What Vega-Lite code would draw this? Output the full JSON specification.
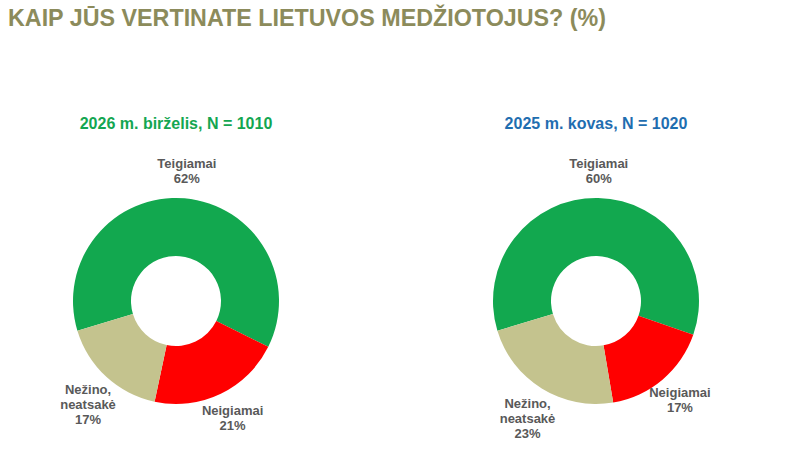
{
  "$schema": "https://vega.github.io/schema/vega-lite/v6.json",
  "background": "white",
  "padding": {"left": 0, "top": 6, "right": 0, "bottom": 0},
  "title": {
    "text": "KAIP JŪS VERTINATE LIETUVOS MEDŽIOTOJUS? (%)",
    "anchor": "start",
    "dx": 8,
    "font": "Liberation Sans",
    "fontSize": 23.3,
    "fontWeight": "bold",
    "color": "#8C8B5B",
    "offset": 85
  },
  "datasets": {
    "jun2026": [
      {"answer": "Teigiamai", "pct": 62, "rank": 1, "label": "Teigiamai\n62%"},
      {"answer": "Neigiamai", "pct": 21, "rank": 2, "label": "Neigiamai\n21%"},
      {"answer": "Nežino, neatsakė", "pct": 17, "rank": 3, "label": "Nežino,\nneatsakė\n17%"}
    ],
    "mar2025": [
      {"answer": "Teigiamai", "pct": 60, "rank": 1, "label": "Teigiamai\n60%"},
      {"answer": "Neigiamai", "pct": 17, "rank": 2, "label": "Neigiamai\n17%"},
      {"answer": "Nežino, neatsakė", "pct": 23, "rank": 3, "label": "Nežino,\nneatsakė\n23%"}
    ]
  },
  "spacing": 68,
  "hconcat": [
    {
      "width": 352,
      "height": 318,
      "data": {"name": "jun2026"},
      "title": {"text": "2026 m. birželis, N = 1010", "color": "#13A651", "anchor": "middle", "font": "Liberation Sans", "fontSize": 16, "fontWeight": "bold", "offset": 10},
      "encoding": {
        "theta": {"field": "pct", "type": "quantitative", "stack": true, "scale": {"range": [-1.864, 4.419]}},
        "order": {"field": "rank", "type": "quantitative"}
      },
      "layer": [
        {
          "mark": {"type": "arc", "innerRadius": 45, "outerRadius": 103},
          "encoding": {
            "color": {"field": "answer", "type": "nominal", "legend": null,
              "scale": {"domain": ["Teigiamai", "Neigiamai", "Nežino, neatsakė"], "range": ["#12A84F", "#FF0000", "#C4C38E"]}}
          }
        },
        {
          "mark": {"type": "text", "radius": 130, "dy": -7, "align": "center", "baseline": "middle", "lineBreak": "\n", "lineHeight": 15, "font": "Liberation Sans", "fontSize": 13, "fontWeight": "bold", "color": "#595959"},
          "encoding": {"text": {"field": "label", "type": "nominal"}}
        }
      ]
    },
    {
      "width": 352,
      "height": 318,
      "data": {"name": "mar2025"},
      "title": {"text": "2025 m. kovas, N = 1020", "color": "#1F6EB0", "anchor": "middle", "font": "Liberation Sans", "fontSize": 16, "fontWeight": "bold", "offset": 10},
      "encoding": {
        "theta": {"field": "pct", "type": "quantitative", "stack": true, "scale": {"range": [-1.864, 4.419]}},
        "order": {"field": "rank", "type": "quantitative"}
      },
      "layer": [
        {
          "mark": {"type": "arc", "innerRadius": 45, "outerRadius": 103},
          "encoding": {
            "color": {"field": "answer", "type": "nominal", "legend": null,
              "scale": {"domain": ["Teigiamai", "Neigiamai", "Nežino, neatsakė"], "range": ["#12A84F", "#FF0000", "#C4C38E"]}}
          }
        },
        {
          "mark": {"type": "text", "radius": 130, "dy": -7, "align": "center", "baseline": "middle", "lineBreak": "\n", "lineHeight": 15, "font": "Liberation Sans", "fontSize": 13, "fontWeight": "bold", "color": "#595959"},
          "encoding": {"text": {"field": "label", "type": "nominal"}}
        }
      ]
    }
  ],
  "config": {"view": {"stroke": null}}
}
